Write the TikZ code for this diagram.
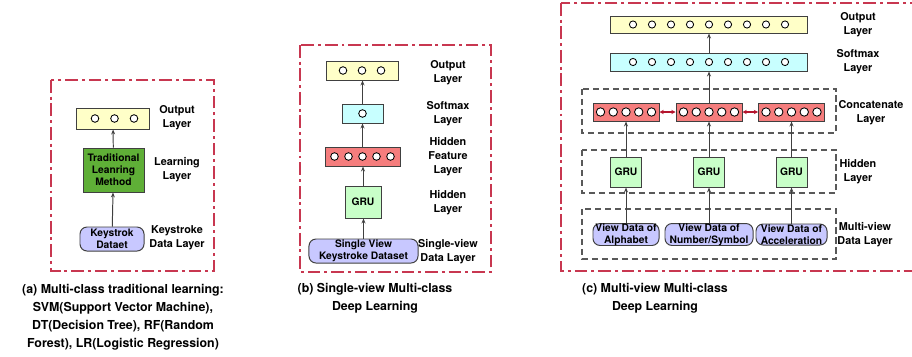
\documentclass[tikz,border=0pt]{standalone}
\usepackage{fontspec}
\setmainfont{TeX Gyre Heros}
\usetikzlibrary{arrows.meta}

\definecolor{framered}{RGB}{200,55,80}
\definecolor{outyellow}{RGB}{255,255,200}
\definecolor{softcyan}{RGB}{200,255,255}
\definecolor{featred}{RGB}{245,125,125}
\definecolor{grugreen}{RGB}{200,255,200}
\definecolor{learngreen}{RGB}{95,175,55}
\definecolor{datablue}{RGB}{200,200,255}
\definecolor{linkred}{RGB}{180,20,45}

\tikzset{
  panelframe/.style={draw=framered, line width=1pt, dash pattern=on 9pt off 2.8pt on 2.1pt off 2.8pt},
  groupbox/.style={draw=black!65, line width=0.8pt, dash pattern=on 4.3pt off 2.8pt},
  layerbox/.style={draw=black!75, line width=0.7pt, inner sep=0pt},
  neuron/.style={circle, draw=black, fill=white, line width=0.6pt, minimum size=0.19cm, inner sep=0pt},
  datanode/.style={rectangle, rounded corners=5pt, draw=black!75, line width=0.7pt, fill=datablue, text=black,
    align=center, inner sep=0pt, font=\fontsize{7.3}{8.6}\selectfont\bfseries},
  boxtext/.style={align=center, text=black, font=\fontsize{7.3}{8.6}\selectfont\bfseries},
  layerlabel/.style={align=center, font=\fontsize{7.7}{10}\selectfont\bfseries},
  caption/.style={align=center, font=\fontsize{8.8}{12.8}\selectfont\bfseries},
  flow/.style={draw=black!75, line width=0.7pt, -{Stealth[length=3.5pt,width=2.8pt]}},
  link/.style={draw=linkred, line width=0.8pt, {Stealth[length=3pt,width=3pt]}-{Stealth[length=3pt,width=3pt]}}
}

\begin{document}
\begin{tikzpicture}[x=0.025cm,y=-0.025cm]
  \useasboundingbox (0,0) rectangle (912,356);

  % Panel (a): traditional learning
  \draw [panelframe] (51,80) rectangle (214,271);
  \node [layerbox, fill=outyellow, minimum width=1.8cm, minimum height=0.525cm] (aout) at (113,118.5) {};
  \foreach \x in {95,114.5,134}
    \node [neuron] (aout-\x) at (\x,118.5) {};
  \node [layerbox, boxtext, fill=learngreen, minimum width=1.525cm, minimum height=1.1cm] (alearn) at (113.5,170)
    {Traditional\\Leanring\\Method};
  \node [datanode, minimum width=1.6cm, minimum height=0.6cm] (adata) at (112,239) {Keystrok\\Dataet};
  \draw [flow] (adata) -- (alearn);
  \draw [flow] (alearn) -- (aout);
  \node [layerlabel] (alabout) at (177,118) {Output\\Layer};
  \node [layerlabel] (alablearn) at (177,170) {Learning\\Layer};
  \node [layerlabel] (alabdata) at (177,238) {Keystroke\\Data Layer};
  \node [caption] (acap) at (123,317) {(a) Multi-class traditional learning:\\SVM(Support Vector Machine),\\DT(Decision Tree), RF(Random\\Forest), LR(Logistic Regression)};

  % Panel (b): single-view deep learning
  \draw [panelframe] (300,45) rectangle (491,272);
  \node [layerbox, fill=outyellow, minimum width=1.8cm, minimum height=0.475cm] (bout) at (362,70.5) {};
  \foreach \x in {343,362,381}
    \node [neuron] (bout-\x) at (\x,70.5) {};
  \node [layerbox, fill=softcyan, minimum width=1.025cm, minimum height=0.475cm] (bsoft) at (362.5,113.5) {};
  \node [neuron] (bsoft-1) at (362.5,113.5) {};
  \node [layerbox, fill=featred, minimum width=1.875cm, minimum height=0.475cm] (bfeat) at (362.5,156.5) {};
  \foreach \x in {334.5,348.5,362.5,376.5,390.5}
    \node [neuron] (bfeat-\x) at (\x,156.5) {};
  \node [layerbox, boxtext, fill=grugreen, minimum width=0.9cm, minimum height=0.8cm] (bgru) at (363,202) {GRU};
  \node [datanode, minimum width=2.725cm, minimum height=0.6cm] (bdata) at (363.5,251) {Single View\\Keystroke Dataset};
  \draw [flow] (bdata) -- (bdata |- bgru.south);
  \draw [flow] (bgru) -- (bgru |- bfeat.south);
  \draw [flow] (bfeat) -- (bfeat |- bsoft.south);
  \draw [flow] (bsoft) -- (bsoft |- bout.south);
  \node [layerlabel] (blabout) at (448,73) {Output\\Layer};
  \node [layerlabel] (blabsoft) at (448,114) {Softmax\\Layer};
  \node [layerlabel] (blabfeat) at (448,157) {Hidden\\Feature\\Layer};
  \node [layerlabel] (blabgru) at (448,203) {Hidden\\Layer};
  \node [layerlabel] (blabdata) at (448,252) {Single-view\\Data Layer};
  \node [caption] (bcap) at (375,298) {(b) Single-view Multi-class\\Deep Learning};

  % Panel (c): multi-view deep learning
  \draw [panelframe] (561,3) rectangle (920,271);
  \draw [groupbox] (582,89) rectangle (836,133);
  \draw [groupbox] (582,150) rectangle (836,193);
  \draw [groupbox] (582,209) rectangle (836,259);
  \node [layerbox, fill=outyellow, minimum width=4.925cm, minimum height=0.425cm] (cout) at (709,24.5) {};
  \node [layerbox, fill=softcyan, minimum width=4.925cm, minimum height=0.45cm] (csoft) at (709,62) {};
  \foreach \k in {0,...,8} {
    \node [neuron, minimum size=0.18cm] (cout-\k) at (633+19*\k,24.5) {};
    \node [neuron, minimum size=0.18cm] (csoft-\k) at (633+19*\k,62) {};
  }
  % Concatenate, GRU and data columns
  \foreach \n/\x/\w/\txt in {1/626/1.65/{View Data of\\Alphabet},
                            2/709/2.2/{View Data of\\Number/Symbol},
                            3/791.5/1.775/{View Data of\\Acceleration}} {
    \node [layerbox, fill=featred, minimum width=1.65cm, minimum height=0.45cm] (ccat\n) at (\x,112) {};
    \foreach \d in {-25.5,-12.75,0,12.75,25.5}
      \node [neuron, minimum size=0.21cm] at (\x+\d,112) {};
    \node [layerbox, boxtext, fill=grugreen, minimum width=0.775cm, minimum height=0.75cm] (cgru\n) at (\x,172) {GRU};
    \node [datanode, minimum width=\w cm, minimum height=0.525cm] (cdata\n) at (\x,234.5) {\txt};
    \draw [flow] (cdata\n) -- (cdata\n |- cgru\n.south);
    \draw [flow] (cgru\n) -- (cgru\n |- ccat\n.south);
  }
  \draw [link] (ccat1) -- (ccat2);
  \draw [link] (ccat2) -- (ccat3);
  \draw [flow] (ccat2) -- (ccat2 |- csoft.south);
  \draw [flow] (csoft) -- (csoft |- cout.south);
  \node [layerlabel] (clabout) at (858,25) {Output\\Layer};
  \node [layerlabel] (clabsoft) at (858,62) {Softmax\\Layer};
  \node [layerlabel] (clabcat) at (871,113) {Concatenate\\Layer};
  \node [layerlabel] (clabgru) at (858,172) {Hidden\\Layer};
  \node [layerlabel] (clabdata) at (865,235) {Multi-view\\Data Layer};
  \node [caption] (ccap) at (655,298) {(c) Multi-view Multi-class\\Deep Learning};
\end{tikzpicture}
\end{document}
